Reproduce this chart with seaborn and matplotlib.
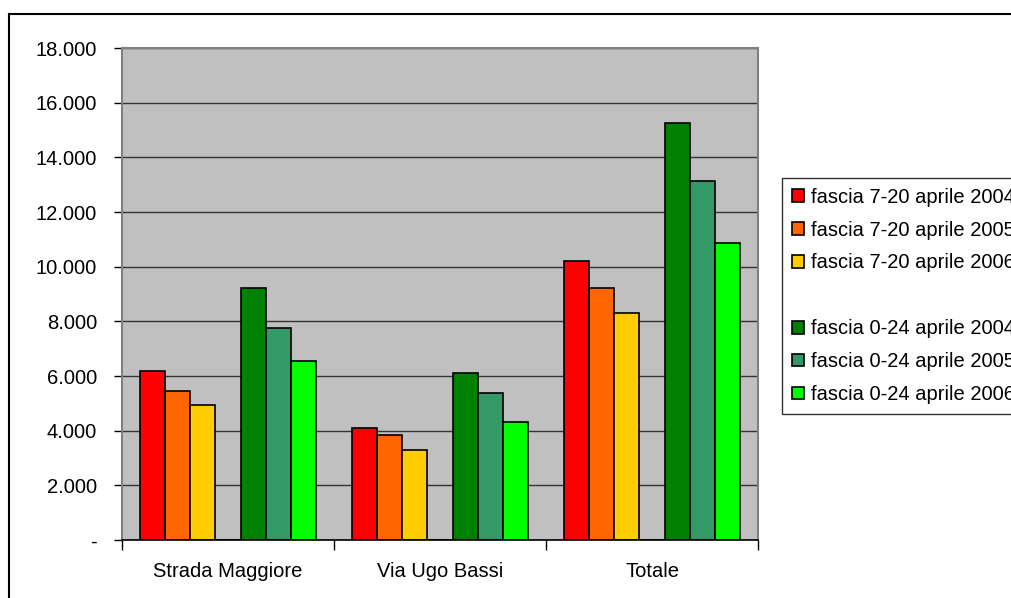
import matplotlib
matplotlib.use("Agg")
import matplotlib.pyplot as plt
import matplotlib.patches as mpatches
from matplotlib.ticker import FuncFormatter, MultipleLocator
import pandas as pd
import seaborn as sns

# Transiti per via e per fascia oraria
luoghi = ["Strada Maggiore", "Via Ugo Bassi", "Totale"]
serie = [
    "fascia 7-20 aprile 2004",
    "fascia 7-20 aprile 2005",
    "fascia 7-20 aprile 2006",
    " ",
    "fascia 0-24 aprile 2004",
    "fascia 0-24 aprile 2005",
    "fascia 0-24 aprile 2006",
]
fascia_7_20_2004 = [6170, 4090, 10200]
fascia_7_20_2005 = [5440, 3840, 9220]
fascia_7_20_2006 = [4950, 3290, 8300]
serie_vuota = [0, 0, 0]
fascia_0_24_2004 = [9220, 6100, 15270]
fascia_0_24_2005 = [7750, 5380, 13120]
fascia_0_24_2006 = [6540, 4330, 10860]
colori = ["#FF0000", "#FF6600", "#FFCC00", "#C0C0C0", "#008000", "#339966", "#00FF00"]

valori = [fascia_7_20_2004, fascia_7_20_2005, fascia_7_20_2006, serie_vuota,
          fascia_0_24_2004, fascia_0_24_2005, fascia_0_24_2006]
df = pd.DataFrame(
    [(l, s, v[i]) for s, v in zip(serie, valori) for i, l in enumerate(luoghi)],
    columns=["luogo", "serie", "valore"],
)

sns.set_theme(style="white")
plt.rcParams["font.family"] = ["Liberation Sans", "DejaVu Sans"]
plt.rcParams["text.color"] = "black"

W, H = 1011, 598
FS = 14.5
fig = plt.figure(figsize=(W / 100, H / 100), dpi=100)
fig.patch.set_facecolor("white")

# cornice del grafico
fig.add_artist(mpatches.Rectangle((8.7 / W, -0.05), 1.2, 1 - 13.5 / H + 0.05,
                                  transform=fig.transFigure, facecolor="none",
                                  edgecolor="black", linewidth=1.5))

ax = fig.add_axes([122 / W, (H - 540) / H, (758 - 122) / W, (540 - 48) / H])
ax.set_facecolor("#C0C0C0")

sns.barplot(data=df, x="luogo", y="valore", hue="serie", hue_order=serie,
            order=luoghi, palette=colori, width=0.8255, gap=0,
            edgecolor="black", linewidth=1.2, errorbar=None, legend=False,
            saturation=1, ax=ax)

ax.set_ylim(0, 18000)
ax.set_xlim(-0.5, 2.5)
ax.yaxis.set_major_locator(MultipleLocator(2000))
ax.yaxis.set_major_formatter(FuncFormatter(
    lambda v, p: "-" if v == 0 else f"{int(v):,}".replace(",", ".")))
ax.grid(axis="y", color="#333333", linewidth=1.0)
ax.set_axisbelow(True)
ax.set_xlabel("")
ax.set_ylabel("")

# tacche dell'asse x ai confini delle categorie
ax.set_xticks([0, 1, 2])
ax.set_xticklabels(luoghi)
ax.set_xticks([-0.5, 0.5, 1.5, 2.5], minor=True)
ax.tick_params(axis="x", which="major", length=0, pad=16, labelsize=FS, colors="black")
ax.tick_params(axis="x", which="minor", length=7, width=1, color="black", bottom=True)
ax.tick_params(axis="y", length=6, width=1, color="black", left=True, pad=12,
               labelsize=FS, labelcolor="black")

for side in ("left", "right", "top"):
    ax.spines[side].set_color("#808080")
    ax.spines[side].set_linewidth(1.5)
ax.spines["bottom"].set_color("black")
ax.spines["bottom"].set_linewidth(1.2)

handles = []
for s, c in zip(serie, colori):
    if s.strip():
        handles.append(mpatches.Patch(facecolor=c, edgecolor="black", linewidth=1.2, label=s))
    else:
        handles.append(mpatches.Patch(facecolor="none", edgecolor="none", label=" "))

leg = fig.legend(handles=handles, loc="upper left",
                 bbox_to_anchor=(782 / W, 1 - 178 / H), frameon=True,
                 fancybox=False, fontsize=FS, handlelength=0.6, handleheight=0.6,
                 handletextpad=0.35, borderpad=0.48, labelspacing=0.69,
                 borderaxespad=0, labelcolor="black")
leg.get_frame().set_edgecolor("black")
leg.get_frame().set_linewidth(1.0)

fig.savefig("out.png", dpi=100)
